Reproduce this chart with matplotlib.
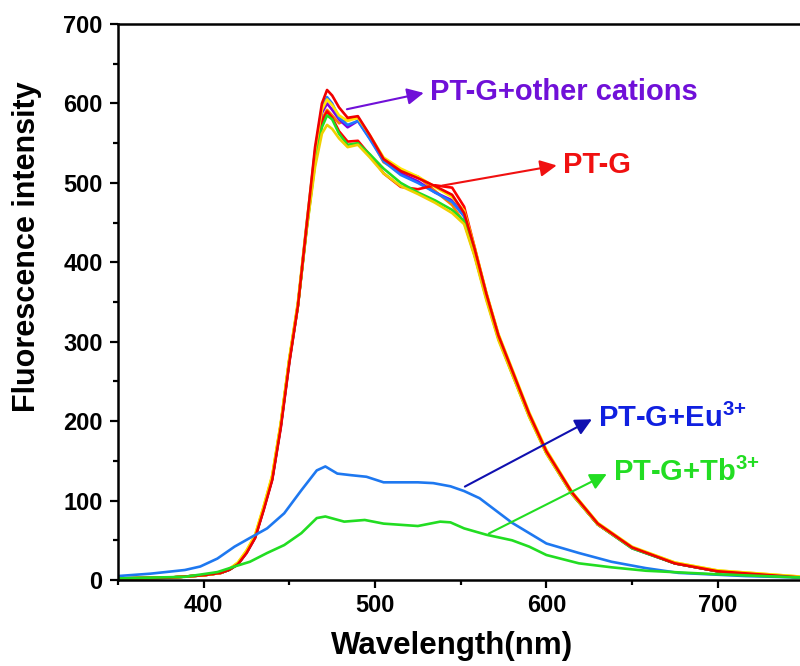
import numpy as np
import matplotlib.pyplot as plt
from matplotlib.ticker import MultipleLocator

plt.rcParams['font.family'] = ['Liberation Sans', 'DejaVu Sans']
plt.rcParams['font.weight'] = 'bold'
plt.rcParams['mathtext.fontset'] = 'custom'
plt.rcParams['mathtext.rm'] = 'Liberation Sans:bold'
plt.rcParams['mathtext.bf'] = 'Liberation Sans:bold'

# wavelength grid (nm) shared by all spectra
wl = [350, 380, 400, 410, 415, 420, 425, 430, 435, 440, 445, 450, 455, 460, 465, 469,
      472, 475, 479, 484, 490, 497, 505, 515, 525, 535, 545, 552, 558, 565, 572, 580,
      590, 600, 615, 630, 650, 675, 700, 750]

# PT-G + other cations (bundle of near-identical spectra)
red_top = [2, 3, 6, 9, 13, 20, 34, 53, 88, 126, 192, 274, 345, 445, 545, 600,
           617, 610, 595, 582, 584, 560, 530, 515, 506, 496, 485, 462, 418, 360, 308, 264,
           209, 162, 110, 71, 41, 21, 11, 3]
blue_c = [2, 3, 6, 9, 13, 20, 35, 54, 90, 128, 195, 277, 347, 446, 540, 595,
          608, 600, 582, 573, 578, 555, 527, 510, 500, 488, 476, 458, 414, 356, 305, 261,
          207, 160, 108, 70, 40, 21, 11, 3]
purple_c = [2, 3, 6, 9, 13, 20, 34, 53, 89, 127, 193, 275, 346, 444, 535, 588,
            600, 592, 580, 570, 578, 556, 530, 512, 502, 488, 478, 458, 416, 360, 308, 263,
            208, 161, 109, 70, 41, 21, 11, 3]
orange_c = [2, 3, 6, 9, 13, 21, 36, 55, 91, 130, 196, 278, 348, 442, 530, 580,
            592, 585, 575, 580, 582, 558, 526, 514, 508, 490, 472, 450, 410, 354, 304, 260,
            206, 160, 108, 70, 40, 21, 11, 3]
yellow_c = [2, 3, 6, 9, 14, 22, 37, 57, 93, 132, 198, 280, 350, 448, 540, 592,
            605, 598, 585, 578, 582, 560, 532, 518, 508, 495, 482, 465, 420, 362, 310, 266,
            211, 164, 111, 72, 42, 22, 12, 4]
gold_c = [2, 3, 6, 9, 14, 22, 37, 56, 92, 131, 197, 278, 346, 440, 520, 562,
          573, 568, 556, 545, 548, 532, 512, 496, 486, 475, 462, 448, 408, 352, 302, 259,
          205, 159, 108, 70, 41, 22, 12, 4]
green_c = [2, 3, 6, 9, 13, 20, 35, 54, 90, 128, 195, 277, 345, 440, 525, 570,
           585, 580, 562, 548, 550, 536, 518, 500, 488, 478, 466, 452, 410, 355, 304, 260,
           206, 160, 108, 70, 40, 21, 11, 3]
red_ptg = [2, 3, 6, 9, 13, 20, 35, 54, 90, 128, 195, 277, 346, 442, 530, 577,
           590, 582, 565, 552, 553, 535, 512, 495, 492, 497, 494, 470, 420, 360, 308, 263,
           208, 161, 109, 70, 41, 21, 11, 3]

# PT-G + Eu3+ and PT-G + Tb3+
eu_wl = [350, 369, 389, 398, 408, 418, 427, 437, 447, 457, 466, 471, 478, 486, 495,
         505, 515, 525, 534, 544, 552, 561, 580, 600, 619, 638, 658, 677, 716, 750]
eu = [5, 8, 12.6, 17, 27, 42, 53, 65, 84, 113, 138, 143, 134, 132, 130,
      123, 123, 123, 122, 118, 112, 103, 72, 46, 34, 23, 15, 9, 5, 3]
tb_wl = [350, 389, 408, 418, 427, 437, 447, 457, 466, 471, 482, 494, 505, 525, 538,
         544, 552, 565, 580, 590, 600, 619, 638, 658, 697, 750]
tb = [2, 4, 10, 17, 23, 34, 44, 59, 78, 80, 73.5, 75.6, 71, 68, 73.5,
      72.6, 65, 57, 50, 42, 31.5, 21, 16, 11.7, 7.5, 3]

bundle = [(orange_c, '#FF7F00'), (purple_c, '#7F00E0'), (blue_c, '#1E78FF'),
          (red_ptg, '#FF0000'), (green_c, '#22DD22'), (gold_c, '#F0D000'),
          (yellow_c, '#FFE800'), (red_top, '#F00000')]

fig = plt.figure(figsize=(8, 6.66), dpi=100)
ax = fig.add_axes([0.1475, 0.1291, 0.8525, 0.8348])

for vals, col in bundle:
    ax.plot(wl, vals, color=col, lw=1.9)
ax.plot(eu_wl, eu, color='#1E78F0', lw=1.9)
ax.plot(tb_wl, tb, color='#22DD22', lw=1.9)

ax.set_xlim(350, 748)
ax.set_ylim(0, 700)
ax.xaxis.set_major_locator(MultipleLocator(100))
ax.xaxis.set_minor_locator(MultipleLocator(50))
ax.yaxis.set_major_locator(MultipleLocator(100))
ax.yaxis.set_minor_locator(MultipleLocator(50))
ax.tick_params(which='major', direction='out', length=6, width=1.6, labelsize=17, pad=4)
ax.tick_params(axis='y', which='major', pad=5)
ax.tick_params(which='minor', direction='out', length=3.5, width=1.6)
ax.spines['right'].set_visible(False)
for s in ['left', 'bottom', 'top']:
    ax.spines[s].set_linewidth(1.8)

ax.set_xlabel('Wavelength(nm)', fontsize=22.5, fontweight='bold')
ax.set_ylabel('Fluorescence intensity', fontsize=22, fontweight='bold')
ax.xaxis.set_label_coords(0.49, -0.092)
ax.yaxis.set_label_coords(-0.112, 0.60)

def note(txt, start, end, tcol, acol):
    ax.annotate('', xy=end, xytext=start,
                arrowprops=dict(arrowstyle='-|>', color=acol, lw=1.5, mutation_scale=25))
    ax.text(end[0] + 2, end[1], txt, color=tcol, fontsize=21, fontweight='bold',
            va='center', ha='left')

note('PT-G+other cations', (482, 592), (530, 614), '#7010D8', '#7010D8')
note('PT-G', (537.6, 496), (607.6, 522.6), '#F01010', '#F01010')
note('PT-G+Eu$^{3{+}}$', (551, 116), (628, 204), '#1020E0', '#1010B0')
note('PT-G+Tb$^{3{+}}$', (565, 57), (636.7, 135), '#22DD22', '#22DD22')

fig.savefig('out.png', dpi=100)
